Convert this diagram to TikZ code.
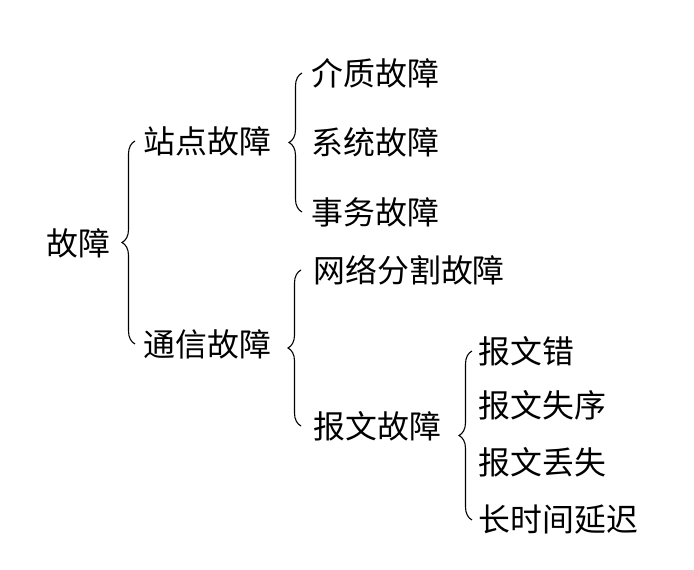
\documentclass[tikz,border=0pt]{standalone}
\usepackage{fontspec}
\usepackage{tikz}
\usetikzlibrary{decorations.pathreplacing}
\newfontfamily\cjk{Noto Sans CJK SC}

\begin{document}
\begin{tikzpicture}[x=1bp, y=1bp, line width=1.1bp,
  lbl/.style={anchor=west, inner sep=0pt, font=\cjk\fontsize{32}{38}\selectfont},
  brc/.style={decorate, decoration={brace, amplitude=13bp}}]

  \useasboundingbox (0,0) rectangle (694,570);

  % -- root and first level ------------------------------------------------
  \node[lbl] (root) at (46,327) {故障};
  \node[lbl] (site) at (143,429) {站点故障};
  \node[lbl] (comm) at (143,226) {通信故障};

  % -- site faults ----------------------------------------------------------
  \node[lbl] (media) at (311,497) {介质故障};
  \node[lbl] (syst)  at (311,428) {系统故障};
  \node[lbl] (trans) at (311,358) {事务故障};

  % -- communication faults -------------------------------------------------
  \node[lbl] (part) at (313,300) {网络分割故障};
  \node[lbl] (msg)  at (313,144) {报文故障};

  % -- message faults -------------------------------------------------------
  \node[lbl] (merr)  at (478,219) {报文错};
  \node[lbl] (morder) at (478,165) {报文失序};
  \node[lbl] (mlost) at (478,108) {报文丢失};
  \node[lbl] (mdelay) at (478,50) {长时间延迟};

  % -- the braces, drawn bottom to top so the cusp points left ---------------
  \draw[brc] ([xshift=-8bp]comm.west)   -- ([xshift=-8bp]site.west);
  \draw[brc] ([xshift=-9bp]trans.west)  -- ([xshift=-9bp]media.west);
  \draw[brc] ([xshift=-12bp]msg.west)   -- ([xshift=-12bp]part.west);
  \draw[brc] ([xshift=-6bp]mdelay.west) -- ([xshift=-6bp]merr.west);

\end{tikzpicture}
\end{document}
